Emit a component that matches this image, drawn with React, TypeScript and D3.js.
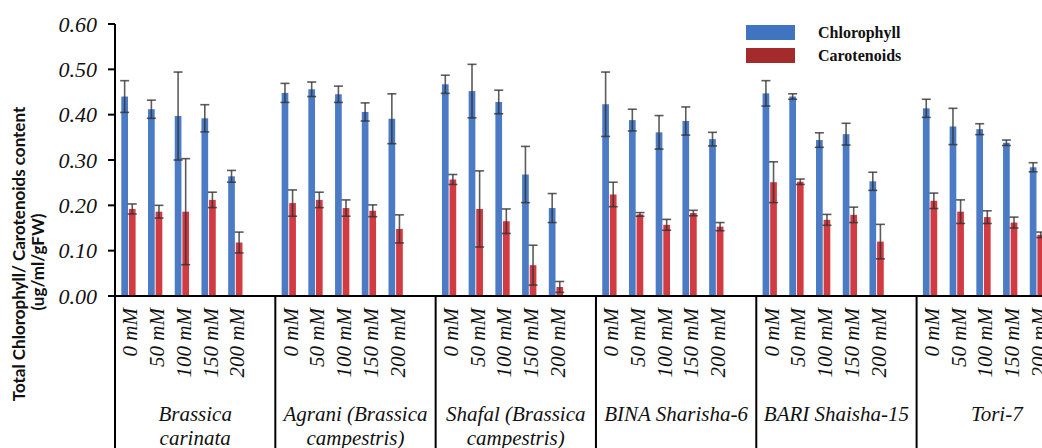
import React from 'react';
import * as d3 from 'd3';

// Cultivars (each group label may wrap on two lines)
const groupLabels: string[][] = [
  ['Brassica', 'carinata'],
  ['Agrani (Brassica', 'campestris)'],
  ['Shafal (Brassica', 'campestris)'],
  ['BINA Sharisha-6'],
  ['BARI Shaisha-15'],
  ['Tori-7'],
  [''],
];

const concentrations = ['0 mM', '50 mM', '100 mM', '150 mM', '200 mM'];

// values in cultivar order, five concentrations each
const chlorophyll = [
  0.44, 0.412, 0.397, 0.392, 0.264,
  0.448, 0.456, 0.445, 0.406, 0.391,
  0.467, 0.452, 0.428, 0.268, 0.194,
  0.423, 0.388, 0.361, 0.386, 0.346,
  0.447, 0.44, 0.344, 0.357, 0.253,
  0.414, 0.374, 0.368, 0.338, 0.284,
];
const chlorophyllErr = [
  0.035, 0.02, 0.097, 0.03, 0.013,
  0.021, 0.016, 0.018, 0.02, 0.055,
  0.02, 0.059, 0.026, 0.062, 0.032,
  0.071, 0.024, 0.037, 0.031, 0.015,
  0.028, 0.006, 0.016, 0.024, 0.02,
  0.02, 0.04, 0.012, 0.006, 0.01,
];
const carotenoids = [
  0.192, 0.186, 0.186, 0.212, 0.118,
  0.205, 0.212, 0.194, 0.188, 0.148,
  0.257, 0.192, 0.165, 0.068, 0.02,
  0.224, 0.18, 0.157, 0.183, 0.153,
  0.251, 0.252, 0.168, 0.179, 0.12,
  0.21, 0.186, 0.174, 0.162, 0.135,
];
const carotenoidsErr = [
  0.011, 0.014, 0.117, 0.017, 0.023,
  0.029, 0.017, 0.018, 0.013, 0.031,
  0.011, 0.084, 0.027, 0.044, 0.012,
  0.027, 0.004, 0.012, 0.006, 0.009,
  0.045, 0.006, 0.012, 0.017, 0.038,
  0.017, 0.026, 0.014, 0.012, 0.006,
];

const yTicks = [0, 0.1, 0.2, 0.3, 0.4, 0.5, 0.6];
const seriesNames = ['Chlorophyll', 'Carotenoids'];

const width = 1042;
const height = 448;
const axisX = 115;
const axisY = 296;
const slotsPerGroup = 6; // five concentrations + one empty slot
const slotW = 26.72;

const barColors = ['#4a7bc4', '#d23b41'];
const legendColors = ['#3f74c1', '#a52a2c'];
const serif = '"Liberation Serif", "Times New Roman", serif';

export default function App() {
  const slotKeys: string[] = [];
  groupLabels.forEach((_, g) => {
    for (let i = 0; i < slotsPerGroup; i++) slotKeys.push(`${g}|${i}`);
  });

  const x = d3.scaleBand<string>()
    .domain(slotKeys)
    .range([axisX, axisX + slotKeys.length * slotW])
    .paddingInner(0)
    .paddingOuter(0);

  const inner = d3.scaleBand<string>()
    .domain(seriesNames)
    .range([6.3, 20.6])
    .paddingInner(0.12);

  const y = d3.scaleLinear().domain([0, 0.6]).range([axisY, 24]);

  const rows = chlorophyll.map((c, k) => ({
    key: `${Math.floor(k / 5)}|${k % 5}`,
    label: concentrations[k % 5],
    values: [c, carotenoids[k]],
    errs: [chlorophyllErr[k], carotenoidsErr[k]],
  }));

  const groupStarts = groupLabels.map((_, g) => x(`${g}|0`) as number);
  const groupW = slotsPerGroup * x.bandwidth();

  return (
    <div style={{ position: 'absolute', left: 0, top: 0 }}>
      <svg width={width} height={height} style={{ display: 'block', background: '#fff' }}>
        {/* bars */}
        {rows.map(r => (
          <g key={r.key} transform={`translate(${x(r.key)},0)`}>
            {seriesNames.map((s, j) => (
              <rect
                key={s}
                x={inner(s)}
                y={y(r.values[j])}
                width={inner.bandwidth()}
                height={axisY - y(r.values[j])}
                fill={barColors[j]}
              />
            ))}
            {seriesNames.map((s, j) => {
              const cx = (inner(s) as number) + inner.bandwidth() / 2;
              const hi = y(r.values[j] + r.errs[j]);
              const lo = y(Math.max(0, r.values[j] - r.errs[j]));
              return (
                <g key={s} stroke="#333" strokeOpacity={0.8} strokeWidth={1.6}>
                  <line x1={cx} x2={cx} y1={hi} y2={lo} />
                  <line x1={cx - 4.5} x2={cx + 4.5} y1={hi} y2={hi} />
                  <line x1={cx - 4.5} x2={cx + 4.5} y1={lo} y2={lo} />
                </g>
              );
            })}
            <text
              transform={`translate(${x.bandwidth() / 2 + 9},308) rotate(-90)`}
              textAnchor="end"
              fontFamily={serif}
              fontStyle="italic"
              fontSize={21}
              fill="#111"
            >
              {r.label}
            </text>
          </g>
        ))}

        {/* axes */}
        <line x1={axisX} x2={axisX} y1={24} y2={height} stroke="#000" strokeWidth={2} />
        <line x1={axisX} x2={width} y1={axisY} y2={axisY} stroke="#000" strokeWidth={2} />
        {groupStarts.slice(1).map((gx, g) => (
          <line key={g} x1={gx} x2={gx} y1={axisY} y2={height} stroke="#000" strokeWidth={2} />
        ))}
        {yTicks.map(t => (
          <g key={t}>
            <line x1={axisX - 7} x2={axisX} y1={y(t)} y2={y(t)} stroke="#000" strokeWidth={2} />
            <text
              x={97}
              y={y(t)}
              dy="0.35em"
              textAnchor="end"
              fontFamily={serif}
              fontStyle="italic"
              fontSize={22}
              fill="#111"
            >
              {d3.format('.2f')(t)}
            </text>
          </g>
        ))}

        {/* group labels */}
        {groupLabels.map((lines, g) => (
          <text
            key={g}
            x={groupStarts[g] + groupW / 2}
            textAnchor="middle"
            fontFamily={serif}
            fontStyle="italic"
            fontSize={21}
            fill="#111"
          >
            {lines.map((l, i) => (
              <tspan key={i} x={groupStarts[g] + groupW / 2} y={421 + i * 24}>{l}</tspan>
            ))}
          </text>
        ))}

        {/* y axis title */}
        <g fontFamily="Lato, sans-serif" fontWeight="bold" fontSize={17} fill="#111" textAnchor="middle">
          <text transform="translate(25,254) rotate(-90)">Total Chlorophyll/ Carotenoids content</text>
          <text transform="translate(44,262) rotate(-90)">(ug/ml/gFW)</text>
        </g>

        {/* legend */}
        {seriesNames.map((s, j) => (
          <g key={s} transform={`translate(746,${25 + j * 23})`}>
            <rect width={49} height={15} fill={legendColors[j]} />
            <text x={72} y={13} fontFamily={serif} fontWeight="bold" fontSize={16} fill="#111">{s}</text>
          </g>
        ))}
      </svg>
    </div>
  );
}
